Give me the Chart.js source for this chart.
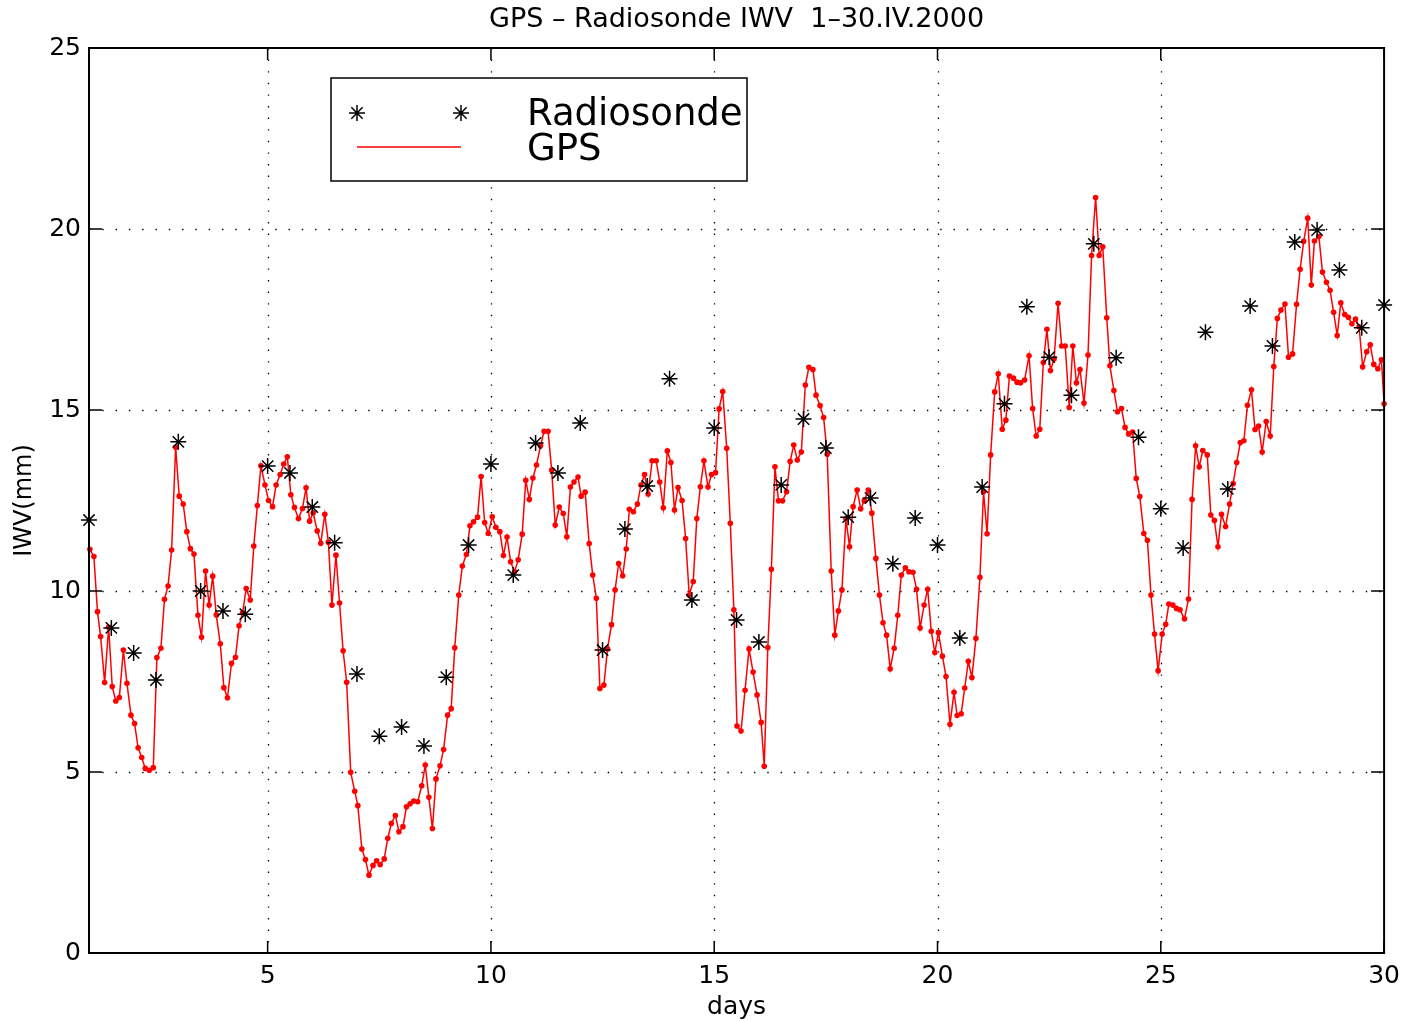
<!DOCTYPE html>
<html>
<head>
<meta charset="utf-8">
<script src="https://cdn.jsdelivr.net/npm/chart.js@4.4.1/dist/chart.umd.min.js"></script>
<style>
  html, body { margin: 0; padding: 0; background: #fff; }
</style>
</head>
<body>
<canvas id="chart" width="1408" height="1022"></canvas>
<script>
const xTicks = [5, 10, 15, 20, 25, 30];
const yTicks = [0, 5, 10, 15, 20, 25];

const sondeDays = [1, 1.5, 2, 2.5, 3, 3.5, 4, 4.5, 5, 5.5, 6, 6.5, 7, 7.5, 8, 8.5, 9, 9.5, 10, 10.5,
  11, 11.5, 12, 12.5, 13, 13.5, 14, 14.5, 15, 15.5, 16, 16.5, 17, 17.5, 18, 18.5, 19, 19.5, 20, 20.5,
  21, 21.5, 22, 22.5, 23, 23.5, 24, 24.5, 25, 25.5, 26, 26.5, 27, 27.5, 28, 28.5, 29, 29.5, 30];
const sondeIWV = [11.96, 8.98, 8.29, 7.54, 14.12, 10.0, 9.45, 9.36, 13.45, 13.26, 12.32, 11.33, 7.71, 5.99, 6.24, 5.72, 7.62, 11.27, 13.51, 10.44,
  14.09, 13.26, 14.64, 8.37, 11.71, 12.9, 15.86, 9.75, 14.5, 9.2, 8.59, 12.93, 14.75, 13.95, 12.04, 12.57, 10.75, 12.02, 11.27, 8.7,
  12.87, 15.17, 17.85, 16.46, 15.41, 19.59, 16.44, 14.25, 12.27, 11.19, 17.15, 12.82, 17.87, 16.77, 19.64, 19.97, 18.87, 17.27, 17.9];

const gpsDays = [1.02, 1.11, 1.19, 1.26, 1.35, 1.44, 1.52, 1.60, 1.68, 1.77, 1.85, 1.94, 2.02, 2.10, 2.18, 2.26, 2.35, 2.44, 2.52, 2.61,
  2.69, 2.77, 2.85, 2.94, 3.02, 3.11, 3.19, 3.27, 3.35, 3.44, 3.52, 3.61, 3.69, 3.77, 3.85, 3.94, 4.02, 4.10, 4.19, 4.28,
  4.36, 4.44, 4.52, 4.61, 4.69, 4.77, 4.85, 4.94, 5.02, 5.11, 5.19, 5.28, 5.36, 5.44, 5.52, 5.60, 5.69, 5.78, 5.86, 5.94,
  6.02, 6.11, 6.19, 6.28, 6.36, 6.44, 6.53, 6.61, 6.69, 6.77, 6.86, 6.95, 7.02, 7.11, 7.19, 7.27, 7.36, 7.44, 7.52, 7.61,
  7.69, 7.77, 7.86, 7.94, 8.03, 8.11, 8.19, 8.27, 8.36, 8.45, 8.53, 8.61, 8.69, 8.77, 8.86, 8.94, 9.03, 9.11, 9.19, 9.28,
  9.36, 9.45, 9.53, 9.61, 9.70, 9.78, 9.86, 9.94, 10.03, 10.11, 10.20, 10.28, 10.36, 10.44, 10.53, 10.61, 10.70, 10.78, 10.86, 10.94,
  11.02, 11.11, 11.19, 11.28, 11.36, 11.44, 11.53, 11.62, 11.70, 11.78, 11.86, 11.95, 12.02, 12.11, 12.20, 12.28, 12.36, 12.44, 12.53, 12.61,
  12.70, 12.78, 12.86, 12.95, 13.03, 13.10, 13.19, 13.28, 13.36, 13.44, 13.52, 13.61, 13.70, 13.78, 13.86, 13.95, 14.03, 14.11, 14.19, 14.28,
  14.36, 14.44, 14.53, 14.61, 14.69, 14.77, 14.86, 14.94, 15.03, 15.11, 15.19, 15.28, 15.36, 15.44, 15.51, 15.60, 15.69, 15.78, 15.87, 15.96,
  16.05, 16.12, 16.20, 16.28, 16.36, 16.44, 16.53, 16.62, 16.70, 16.78, 16.86, 16.95, 17.04, 17.12, 17.21, 17.28, 17.37, 17.45, 17.53, 17.62,
  17.70, 17.78, 17.86, 17.95, 18.03, 18.11, 18.20, 18.28, 18.36, 18.45, 18.53, 18.62, 18.70, 18.78, 18.86, 18.94, 19.03, 19.11, 19.19, 19.28,
  19.36, 19.45, 19.53, 19.61, 19.70, 19.78, 19.86, 19.94, 20.02, 20.11, 20.19, 20.28, 20.37, 20.44, 20.53, 20.61, 20.69, 20.77, 20.86, 20.95,
  21.03, 21.11, 21.19, 21.28, 21.36, 21.45, 21.53, 21.61, 21.70, 21.78, 21.86, 21.95, 22.05, 22.13, 22.21, 22.29, 22.37, 22.45, 22.53, 22.61,
  22.70, 22.78, 22.86, 22.95, 23.03, 23.11, 23.19, 23.28, 23.37, 23.45, 23.54, 23.62, 23.70, 23.79, 23.86, 23.95, 24.03, 24.12, 24.20, 24.28,
  24.37, 24.45, 24.53, 24.62, 24.70, 24.78, 24.86, 24.94, 25.03, 25.11, 25.18, 25.27, 25.35, 25.43, 25.53, 25.62, 25.70, 25.78, 25.86, 25.94,
  26.04, 26.12, 26.20, 26.28, 26.36, 26.45, 26.54, 26.62, 26.70, 26.78, 26.86, 26.94, 27.03, 27.11, 27.19, 27.27, 27.36, 27.45, 27.53, 27.61,
  27.69, 27.78, 27.86, 27.95, 28.04, 28.12, 28.20, 28.29, 28.37, 28.44, 28.54, 28.62, 28.71, 28.79, 28.87, 28.95, 29.03, 29.12, 29.20, 29.28,
  29.36, 29.44, 29.52, 29.61, 29.69, 29.77, 29.86, 29.94, 30.00];
const gpsIWV = [11.15, 10.95, 9.43, 8.74, 7.47, 9.00, 7.36, 6.96, 7.06, 8.37, 7.45, 6.57, 6.34, 5.67, 5.40, 5.10, 5.05, 5.12, 8.16, 8.42,
  9.77, 10.14, 11.13, 13.97, 12.62, 12.40, 11.64, 11.17, 11.02, 9.33, 8.72, 10.55, 9.61, 10.41, 9.34, 8.54, 7.33, 7.05, 8.00, 8.17,
  9.04, 9.40, 10.07, 9.75, 11.24, 12.36, 13.46, 12.93, 12.50, 12.33, 12.93, 13.22, 13.51, 13.71, 12.66, 12.31, 12.00, 12.28, 12.85, 11.93,
  12.16, 11.66, 11.32, 12.12, 11.35, 9.61, 10.99, 9.67, 8.35, 7.48, 4.99, 4.47, 4.07, 2.87, 2.58, 2.15, 2.42, 2.55, 2.44, 2.60,
  3.17, 3.58, 3.80, 3.35, 3.49, 4.04, 4.12, 4.20, 4.18, 4.62, 5.19, 4.30, 3.44, 4.81, 5.17, 5.62, 6.57, 6.75, 8.43, 9.89,
  10.69, 11.01, 11.80, 11.91, 12.04, 13.16, 11.89, 11.59, 12.05, 11.76, 11.64, 10.98, 11.49, 10.81, 10.53, 10.86, 11.57, 13.06, 12.53, 13.12,
  13.48, 14.01, 14.41, 14.41, 13.34, 11.82, 12.32, 12.14, 11.50, 12.87, 13.01, 13.15, 12.62, 12.73, 11.31, 10.44, 9.80, 7.31, 7.40, 8.40,
  9.07, 10.03, 10.76, 10.42, 11.16, 12.26, 12.19, 12.40, 12.93, 13.22, 12.68, 13.60, 13.60, 13.01, 12.30, 13.87, 13.55, 12.24, 12.86, 12.50,
  11.45, 9.89, 10.26, 12.00, 12.88, 13.60, 12.87, 13.22, 13.27, 15.03, 15.51, 13.94, 11.87, 9.48, 6.27, 6.13, 7.26, 8.40, 7.76, 7.13,
  6.37, 5.16, 8.44, 10.60, 13.43, 12.49, 12.49, 12.74, 13.58, 14.03, 13.62, 13.84, 15.69, 16.18, 16.12, 15.41, 15.12, 14.79, 13.78, 10.55,
  8.78, 9.45, 10.03, 12.00, 11.22, 12.33, 12.79, 12.27, 12.49, 12.79, 12.15, 10.90, 9.89, 9.12, 8.78, 7.85, 8.42, 9.33, 10.44, 10.64,
  10.53, 10.52, 10.05, 8.98, 9.61, 10.05, 8.89, 8.30, 8.85, 8.20, 7.64, 6.32, 7.20, 6.56, 6.61, 7.32, 8.06, 7.61, 8.69, 10.38,
  12.74, 11.58, 13.76, 15.50, 16.00, 14.47, 14.72, 15.94, 15.88, 15.77, 15.75, 15.83, 16.50, 15.04, 14.28, 14.47, 16.31, 17.23, 16.09, 16.41,
  17.95, 16.77, 16.77, 15.07, 16.77, 15.75, 16.12, 15.19, 16.52, 19.27, 20.87, 19.27, 19.51, 17.55, 16.22, 15.54, 14.95, 15.04, 14.52, 14.34,
  14.39, 13.11, 12.61, 11.59, 11.40, 9.89, 8.81, 7.80, 8.81, 9.08, 9.64, 9.61, 9.52, 9.48, 9.23, 9.78, 12.53, 14.01, 13.43, 13.88,
  13.76, 12.10, 11.95, 11.22, 12.12, 11.78, 12.40, 12.97, 13.55, 14.10, 14.15, 15.13, 15.56, 14.46, 14.56, 13.84, 14.68, 14.28, 16.20, 17.53,
  17.76, 17.93, 16.46, 16.55, 17.92, 18.89, 19.66, 20.30, 18.45, 19.67, 19.79, 18.81, 18.53, 18.31, 17.70, 17.06, 17.96, 17.64, 17.56, 17.38,
  17.51, 17.30, 16.19, 16.61, 16.80, 16.26, 16.14, 16.39, 15.17];

const FONT = 'DejaVu Sans';

// matlab style axes: dotted grid, boxed frame, inward ticks, legend box
const matlabAxes = {
  id: 'matlabAxes',
  beforeDatasetsDraw(chart) {
    const { ctx, chartArea: a, scales: { x, y } } = chart;
    ctx.save();
    ctx.strokeStyle = '#000';
    ctx.lineWidth = 1.3;
    ctx.setLineDash([1.4, 11.9]);
    yTicks.forEach(v => {
      if (v <= y.min || v >= y.max) return;
      const py = Math.round(y.getPixelForValue(v)) + 0.5;
      ctx.beginPath(); ctx.moveTo(a.left, py); ctx.lineTo(a.right, py); ctx.stroke();
    });
    ctx.setLineDash([1.4, 10.2]);
    xTicks.forEach(v => {
      if (v <= x.min || v >= x.max) return;
      const px = Math.round(x.getPixelForValue(v)) + 0.5;
      ctx.beginPath(); ctx.moveTo(px, a.top); ctx.lineTo(px, a.bottom); ctx.stroke();
    });
    ctx.restore();
  },
  afterDatasetsDraw(chart) {
    const { ctx, chartArea: a, scales: { x, y } } = chart;
    ctx.save();
    ctx.strokeStyle = '#000';
    ctx.lineWidth = 1.5;
    ctx.beginPath();
    yTicks.forEach(v => {
      const py = y.getPixelForValue(v);
      ctx.moveTo(a.left, py); ctx.lineTo(a.left + 13, py);
      ctx.moveTo(a.right, py); ctx.lineTo(a.right - 13, py);
    });
    xTicks.forEach(v => {
      const px = x.getPixelForValue(v);
      ctx.moveTo(px, a.bottom); ctx.lineTo(px, a.bottom - 12);
      ctx.moveTo(px, a.top); ctx.lineTo(px, a.top + 12);
    });
    ctx.stroke();
    ctx.lineWidth = 2;
    ctx.strokeRect(a.left, a.top, a.right - a.left, a.bottom - a.top);
    ctx.restore();
  },
  afterDraw(chart) {
    const { ctx, chartArea: a } = chart;
    const lx = a.left + 242, ly = a.top + 30, lw = 416, lh = 103;
    ctx.save();
    ctx.fillStyle = '#fff';
    ctx.fillRect(lx, ly, lw, lh);
    ctx.strokeStyle = '#000';
    ctx.lineWidth = 1.5;
    ctx.strokeRect(lx, ly, lw, lh);

    const star = (cx, cy, r) => {
      const d = r * Math.SQRT1_2;
      ctx.beginPath();
      ctx.moveTo(cx - r, cy); ctx.lineTo(cx + r, cy);
      ctx.moveTo(cx, cy - r); ctx.lineTo(cx, cy + r);
      ctx.moveTo(cx - d, cy - d); ctx.lineTo(cx + d, cy + d);
      ctx.moveTo(cx - d, cy + d); ctx.lineTo(cx + d, cy - d);
      ctx.stroke();
    };
    ctx.lineWidth = 1.5;
    star(lx + 26, ly + 35, 8);
    star(lx + 130, ly + 35, 8);

    ctx.strokeStyle = '#ff0000';
    ctx.lineWidth = 1.3;
    ctx.beginPath();
    ctx.moveTo(lx + 26, ly + 69); ctx.lineTo(lx + 130, ly + 69);
    ctx.stroke();

    ctx.fillStyle = '#000';
    ctx.font = '37px "' + FONT + '"';
    ctx.textBaseline = 'alphabetic';
    ctx.fillText('Radiosonde', lx + 196, ly + 47);
    ctx.fillText('GPS', lx + 196, ly + 82);
    ctx.restore();
  }
};

new Chart(document.getElementById('chart'), {
  type: 'scatter',
  data: {
    datasets: [{
      label: 'Radiosonde',
      data: sondeDays.map((d, i) => ({ x: d, y: sondeIWV[i] })),
      showLine: false,
      pointStyle: 'star',
      pointRadius: 8,
      pointBorderWidth: 1.5,
      pointBorderColor: '#000',
      pointBackgroundColor: '#000',
      clip: false
    }, {
      label: 'GPS',
      data: gpsDays.map((d, i) => ({ x: d, y: gpsIWV[i] })),
      showLine: true,
      borderColor: '#ff0000',
      borderWidth: 1.5,
      pointRadius: 2.8,
      pointBorderWidth: 0,
      pointBackgroundColor: '#ff0000',
      clip: false
    }]
  },
  options: {
    responsive: false,
    animation: false,
    devicePixelRatio: 1,
    layout: { padding: { left: 0, right: 23, top: 0, bottom: 0 } },
    plugins: {
      legend: { display: false },
      tooltip: { enabled: false },
      title: {
        display: true,
        fullSize: false,
        text: 'GPS – Radiosonde IWV  1–30.IV.2000',
        color: '#000',
        font: { family: FONT, size: 27, weight: 'normal' },
        padding: { top: 4, bottom: 11.6 }
      }
    },
    scales: {
      x: {
        type: 'linear',
        min: 1,
        max: 30,
        afterBuildTicks: s => { s.ticks = xTicks.map(v => ({ value: v })); },
        afterFit: s => { s.height = 69; },
        grid: { display: false, drawTicks: false },
        border: { display: false },
        ticks: { color: '#000', font: { family: FONT, size: 25 }, padding: 8, maxRotation: 0, autoSkip: false },
        title: { display: true, text: 'days', color: '#000', font: { family: FONT, size: 25 }, padding: 0 }
      },
      y: {
        min: 0,
        max: 25,
        afterBuildTicks: s => { s.ticks = yTicks.map(v => ({ value: v })); },
        afterFit: s => { s.width = 89; },
        grid: { display: false, drawTicks: false },
        border: { display: false },
        ticks: { color: '#000', font: { family: FONT, size: 25 }, padding: 8, autoSkip: false },
        title: { display: true, text: 'IWV(mm)', color: '#000', font: { family: FONT, size: 24 }, padding: { top: 10.6, bottom: 0 } }
      }
    }
  },
  plugins: [matlabAxes]
});
</script>
</body>
</html>
